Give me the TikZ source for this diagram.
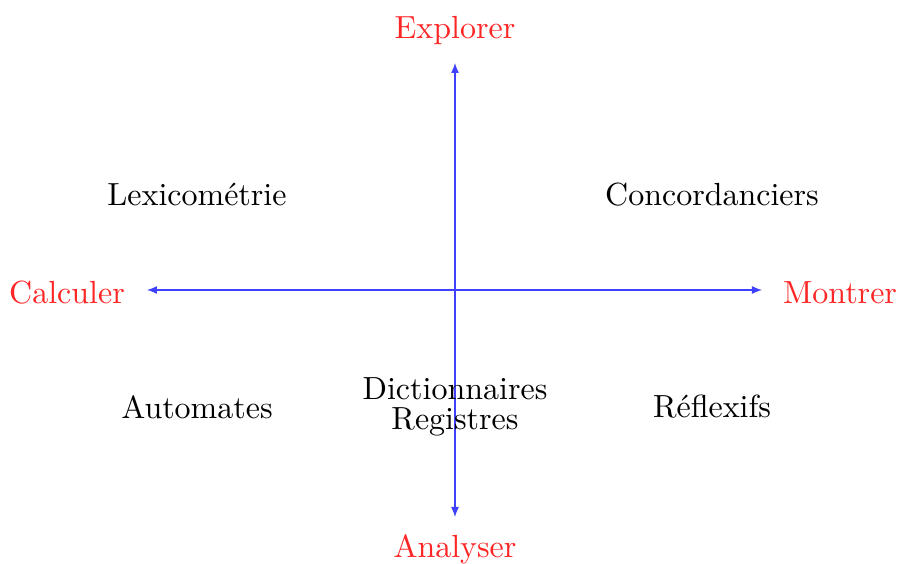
\documentclass[tikz,border=0pt]{standalone}
\usepackage{fontspec}
\usetikzlibrary{arrows.meta}
\begin{document}
\begin{tikzpicture}[x=0.3pt,y=-0.3pt,
  axis/.style={blue!75!white, line width=0.4pt, {Latex[length=3pt,width=2.4pt]}-{Latex[length=3pt,width=2.4pt]}},
  pole/.style={text=red!85!white, font=\fontsize{9.6pt}{11.5pt}\selectfont, inner sep=0pt},
  cat/.style={text=black, font=\fontsize{9.6pt}{11.5pt}\selectfont, inner sep=0pt, align=center}]
\useasboundingbox (0,0) rectangle (898,564);
\coordinate (top) at (455,63);
\coordinate (bot) at (455,517);
\coordinate (lft) at (147,290);
\coordinate (rgt) at (762,290);
\draw[axis] (bot) -- (top);
\draw[axis] (lft) -- (rgt);
\node[pole] (explorer) at (455,30) {Explorer};
\node[pole] (analyser) at (455,549) {Analyser};
\node[pole] (calculer) at (67,293) {Calculer};
\node[pole] (montrer) at (840,293) {Montrer};
\node[cat] (lexico) at (197,195) {Lexicométrie};
\node[cat] (concord) at (712,195) {Concordanciers};
\node[cat] (automates) at (197,407) {Automates};
\node[cat] (dict) at (455,407) {Dictionnaires\\[-2.5pt]Registres};
\node[cat] (reflexifs) at (712,407) {Réflexifs};
\end{tikzpicture}
\end{document}
